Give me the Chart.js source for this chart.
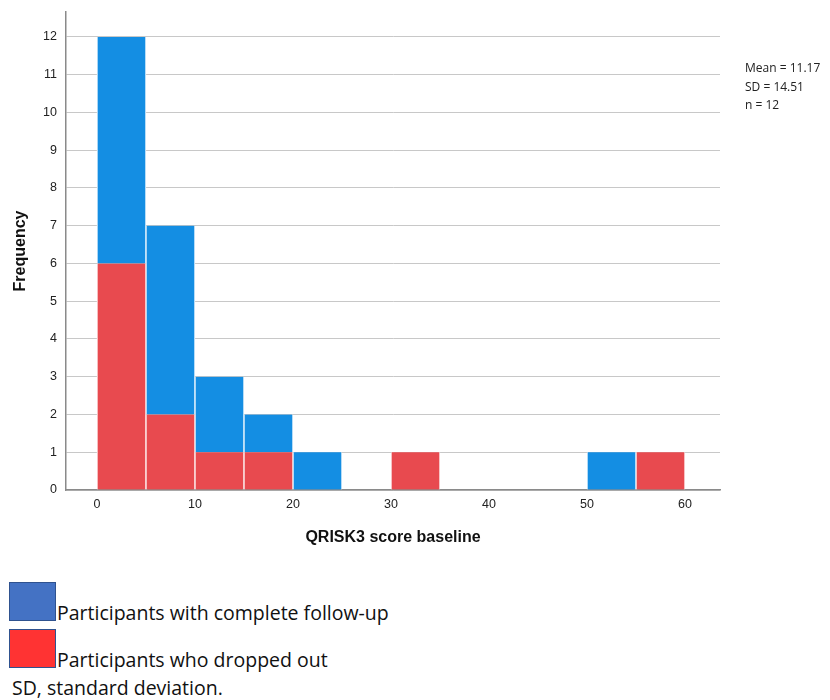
<!DOCTYPE html>
<html>
<head>
<meta charset="utf-8">
<script src="https://cdn.jsdelivr.net/npm/chart.js@4/dist/chart.umd.min.js"></script>
<style>
  body { margin: 0; background: #fff; width: 830px; height: 700px; position: relative; overflow: hidden; }
  #wrap { position: absolute; left: 0; top: 0; width: 830px; height: 560px; }
  .note { position: absolute; font-family: "Open Sans", "Noto Sans", sans-serif; color: #222; white-space: nowrap; }
  .stats { left: 745px; top: 59px; font-size: 12px; line-height: 18.5px; }
  .box { position: absolute; left: 9px; width: 45px; height: 37px; border: 1.5px solid #2f528f; }
  .legtext { font-size: 19.5px; color: #111; }
</style>
</head>
<body>
<div id="wrap"><canvas id="histChart" width="830" height="560"></canvas></div>

<div class="note stats">Mean = 11.17<br>SD = 14.51<br>n = 12</div>

<div class="box" style="top:582px;background:#4472c4;"></div>
<div class="note legtext" style="left:57px;top:599px;">Participants with complete follow-up</div>
<div class="box" style="top:629px;background:#ff3333;"></div>
<div class="note legtext" style="left:57px;top:646px;">Participants who dropped out</div>
<div class="note legtext" style="left:12px;top:674px;">SD, standard deviation.</div>

<script>
// Bin centres of the histogram (bins are 5 wide, 0 to 60)
const binCenters = [2.5, 7.5, 12.5, 17.5, 22.5, 27.5, 32.5, 37.5, 42.5, 47.5, 52.5, 57.5];
const droppedOut = [6, 2, 1, 1, 0, 0, 1, 0, 0, 0, 0, 1];
const completeFollowUp = [6, 5, 2, 1, 1, 0, 0, 0, 0, 0, 1, 0];
const xTicks = [0, 10, 20, 30, 40, 50, 60];
const yTicks = [0, 1, 2, 3, 4, 5, 6, 7, 8, 9, 10, 11, 12];

const toPoints = arr => arr.map((v, i) => ({ x: binCenters[i], y: v }));

const tickFont = { family: "Arial, 'Liberation Sans', sans-serif", size: 12.5 };
const titleFont = { family: "Arial, 'Liberation Sans', sans-serif", size: 16, weight: "bold" };

const ctx = document.getElementById("histChart");

new Chart(ctx, {
  type: "bar",
  data: {
    datasets: [
      {
        label: "Participants who dropped out",
        data: toPoints(droppedOut),
        backgroundColor: "#e84a4f",
        borderColor: "#ffffff",
        borderWidth: { left: 1, right: 1, top: 0, bottom: 0 },
        borderSkipped: false,
        barPercentage: 1,
        categoryPercentage: 1
      },
      {
        label: "Participants with complete follow-up",
        data: toPoints(completeFollowUp),
        backgroundColor: "#148ee3",
        borderColor: "#ffffff",
        borderWidth: { left: 1, right: 1, top: 0, bottom: 0 },
        borderSkipped: false,
        barPercentage: 1,
        categoryPercentage: 1
      }
    ]
  },
  options: {
    responsive: false,
    animation: false,
    layout: { padding: { top: 12, right: 110, left: 0, bottom: 0 } },
    plugins: { legend: { display: false }, tooltip: { enabled: false } },
    scales: {
      x: {
        type: "linear",
        stacked: true,
        offset: false,
        min: -3.16,
        max: 63.57,
        afterBuildTicks: s => { s.ticks = xTicks.map(v => ({ value: v })); },
        afterFit: s => { s.height = 70; s.paddingLeft = 0; s.paddingRight = 0; },
        grid: { display: false, drawTicks: false, offset: false },
        border: { display: true, color: "#8a8a8a", width: 1.5 },
        ticks: { font: tickFont, color: "#222", padding: 7, maxRotation: 0 },
        title: {
          display: true,
          text: "QRISK3 score baseline",
          font: titleFont,
          color: "#111",
          padding: { top: 0, bottom: 13 }
        }
      },
      y: {
        stacked: true,
        min: 0,
        max: 12.66,
        afterBuildTicks: s => { s.ticks = yTicks.map(v => ({ value: v })); },
        afterFit: s => { s.width = 66; s.paddingTop = 0; s.paddingBottom = 0; },
        grid: { color: "#c8c8c8", lineWidth: 1, drawTicks: false },
        border: { display: true, color: "#8a8a8a", width: 1.5 },
        ticks: { font: tickFont, color: "#222", padding: 9 },
        title: {
          display: true,
          text: "Frequency",
          font: titleFont,
          color: "#111",
          padding: { top: 11, bottom: 0 }
        }
      }
    }
  }
});
</script>
</body>
</html>
